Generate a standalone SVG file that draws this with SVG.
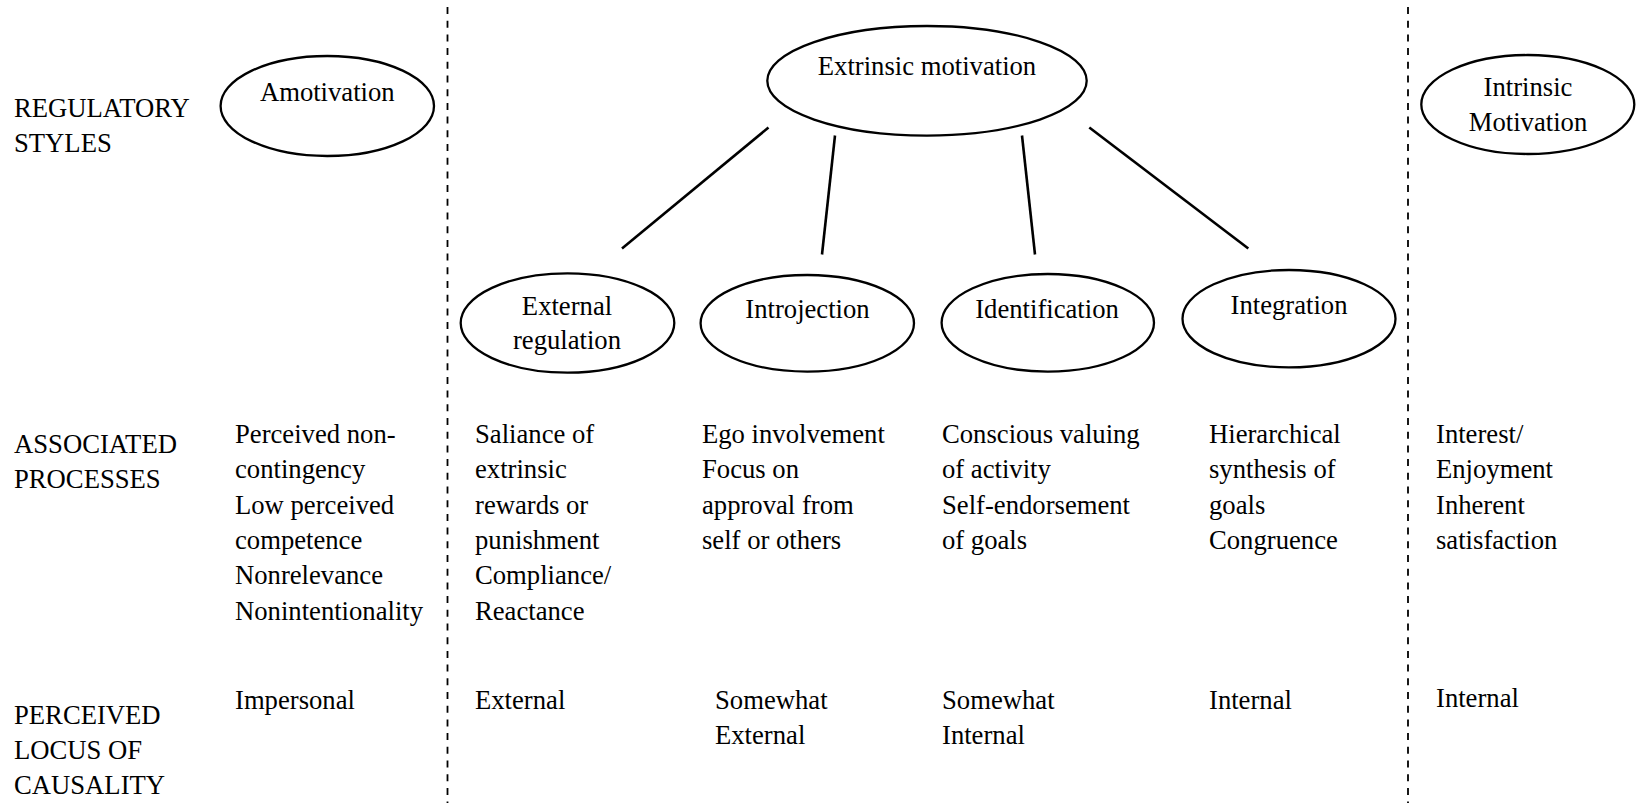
<svg xmlns="http://www.w3.org/2000/svg" width="1636" height="803" viewBox="0 0 1636 803">
<style>
text{font-family:'Liberation Serif','Times New Roman',Times,'DejaVu Serif',serif;font-size:26.67px;fill:#000}
.c{text-anchor:middle}
.node ellipse{fill:#fff;stroke:#000;stroke-width:2.3}
.conn line{stroke:#000;stroke-width:2.6}
.div{stroke:#000;stroke-width:1.8;stroke-dasharray:7 6.7}
</style>
<rect width="1636" height="803" fill="#fff"/>
<g id="dividers">
<line class="div" x1="447.5" y1="7" x2="447.5" y2="803"/>
<line class="div" x1="1408" y1="7" x2="1408" y2="803"/>
</g>
<g id="row-labels">
<text x="14" y="117">REGULATORY</text>
<text x="14" y="152">STYLES</text>
<text x="14" y="453">ASSOCIATED</text>
<text x="14" y="488">PROCESSES</text>
<text x="14" y="724">PERCEIVED</text>
<text x="14" y="759">LOCUS OF</text>
<text x="14" y="794">CAUSALITY</text>
</g>
<g class="conn" id="connectors">
<line x1="768.5" y1="127.5" x2="622" y2="248.5"/>
<line x1="835" y1="135.5" x2="822" y2="254.5"/>
<line x1="1022" y1="135.5" x2="1035" y2="254.5"/>
<line x1="1089.3" y1="127.5" x2="1248.3" y2="248.5"/>
</g>
<g class="node" id="amotivation">
<ellipse cx="327.3" cy="106" rx="106.7" ry="50"/>
<text class="c" x="327.3" y="101">Amotivation</text>
</g>
<g class="node" id="extrinsic">
<ellipse cx="927" cy="80.8" rx="159.7" ry="54.8"/>
<text class="c" x="927" y="74.5">Extrinsic motivation</text>
</g>
<g class="node" id="intrinsic">
<ellipse cx="1527.8" cy="104.5" rx="106.5" ry="49.5"/>
<text class="c" x="1528" y="95.5">Intrinsic</text>
<text class="c" x="1528" y="131">Motivation</text>
</g>
<g class="node" id="external-regulation">
<ellipse cx="567.5" cy="323" rx="106.8" ry="49.7"/>
<text class="c" x="567" y="314.8">External</text>
<text class="c" x="567" y="348.8">regulation</text>
</g>
<g class="node" id="introjection">
<ellipse cx="807.3" cy="323.3" rx="106.7" ry="48.3"/>
<text class="c" x="807.5" y="317.5">Introjection</text>
</g>
<g class="node" id="identification">
<ellipse cx="1047.8" cy="322.8" rx="106.2" ry="48.8"/>
<text class="c" x="1047" y="317.5">Identification</text>
</g>
<g class="node" id="integration">
<ellipse cx="1289" cy="318.7" rx="106.5" ry="48.7"/>
<text class="c" x="1289" y="313.8">Integration</text>
</g>
<g id="processes">
<text x="235" y="443">Perceived non-</text>
<text x="235" y="478.3">contingency</text>
<text x="235" y="513.6">Low perceived</text>
<text x="235" y="548.9">competence</text>
<text x="235" y="584.2">Nonrelevance</text>
<text x="235" y="619.5">Nonintentionality</text>
<text x="475" y="443">Saliance of</text>
<text x="475" y="478.3">extrinsic</text>
<text x="475" y="513.6">rewards or</text>
<text x="475" y="548.9">punishment</text>
<text x="475" y="584.2">Compliance/</text>
<text x="475" y="619.5">Reactance</text>
<text x="702" y="443">Ego involvement</text>
<text x="702" y="478.3">Focus on</text>
<text x="702" y="513.6">approval from</text>
<text x="702" y="548.9">self or others</text>
<text x="942" y="443">Conscious valuing</text>
<text x="942" y="478.3">of activity</text>
<text x="942" y="513.6">Self-endorsement</text>
<text x="942" y="548.9">of goals</text>
<text x="1209" y="443">Hierarchical</text>
<text x="1209" y="478.3">synthesis of</text>
<text x="1209" y="513.6">goals</text>
<text x="1209" y="548.9">Congruence</text>
<text x="1436" y="443">Interest/</text>
<text x="1436" y="478.3">Enjoyment</text>
<text x="1436" y="513.6">Inherent</text>
<text x="1436" y="548.9">satisfaction</text>
</g>
<g id="locus">
<text x="235" y="708.5">Impersonal</text>
<text x="475" y="708.5">External</text>
<text x="715" y="708.5">Somewhat</text>
<text x="715" y="743.5">External</text>
<text x="942" y="708.5">Somewhat</text>
<text x="942" y="743.5">Internal</text>
<text x="1209" y="708.5">Internal</text>
<text x="1436" y="707">Internal</text>
</g>
</svg>
